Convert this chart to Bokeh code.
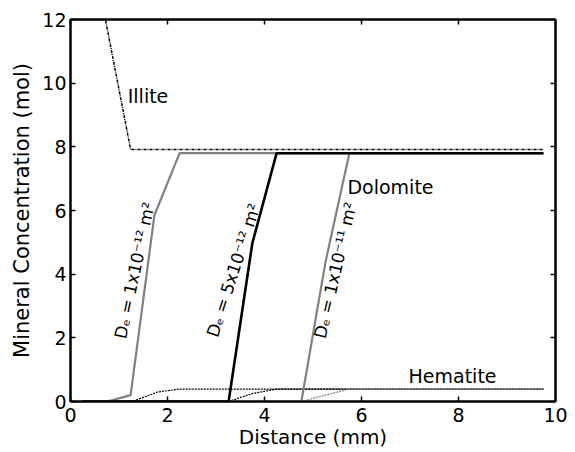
from bokeh.plotting import figure
from bokeh.models import LinearAxis, FixedTicker, Range1d
from bokeh.core.properties import value
from bokeh.embed import file_html
from bokeh.resources import INLINE
import math

# Data
illite_x = [0.25, 0.72, 1.24, 9.75]
illite_y = [12.0, 12.0, 7.92, 7.92]

dol1_x = [0.25, 0.76, 1.24, 1.73, 2.25, 9.75]
dol1_y = [0.0, 0.0, 0.2, 5.85, 7.8, 7.8]
dol2_x = [0.25, 3.26, 3.75, 4.25, 9.75]
dol2_y = [0.0, 0.0, 4.98, 7.8, 7.8]
dol3_x = [0.25, 4.76, 5.26, 5.75, 9.75]
dol3_y = [0.0, 0.0, 4.4, 7.8, 7.8]

hem1_x = [0.25, 1.27, 1.8, 2.25, 9.75]
hem1_y = [0.0, 0.0, 0.3, 0.39, 0.39]
hem2_x = [3.26, 3.75, 4.25, 9.75]
hem2_y = [0.0, 0.25, 0.39, 0.39]
hem3_x = [4.76, 5.26, 5.75, 9.75]
hem3_y = [0.0, 0.2, 0.39, 0.39]

x_ticks = [0, 2, 4, 6, 8, 10]
y_ticks = [0, 2, 4, 6, 8, 10, 12]

de_labels = ["D\u2091 = 1x10\u207b\u00b9\u00b2 m\u00b2",
             "D\u2091 = 5x10\u207b\u00b9\u00b2 m\u00b2",
             "D\u2091 = 1x10\u207b\u00b9\u00b9 m\u00b2"]
de_label_x = [1.32, 3.36, 5.46]
de_label_y = [4.12, 4.12, 4.12]
de_label_angle_deg = [78, 72, 77]

mineral_names = ["Illite", "Dolomite", "Hematite"]
mineral_x = [1.18, 5.71, 6.97]
mineral_y = [9.6, 6.75, 0.8]

FONT = "DejaVu Sans"

p = figure(width=575, height=452, output_backend="svg", toolbar_location=None,
           x_range=Range1d(0, 10), y_range=Range1d(0, 12),
           min_border_left=70, min_border_top=19, min_border_right=20, min_border_bottom=51)
p.grid.visible = False
p.outline_line_color = "black"
p.outline_line_width = 2

for ax, ticks in ((p.xaxis[0], x_ticks), (p.yaxis[0], y_ticks)):
    ax.ticker = FixedTicker(ticks=ticks)
    ax.major_tick_in = 5
    ax.major_tick_out = 0
    ax.minor_tick_line_color = None
    ax.axis_line_width = 2
    ax.major_tick_line_width = 1.5
    ax.major_label_text_font = FONT
    ax.major_label_text_font_size = "19px"
    ax.major_label_text_color = "black"
    ax.axis_label_text_font = FONT
    ax.axis_label_text_font_size = "20px"
    ax.axis_label_text_font_style = "normal"
    ax.axis_label_text_color = "black"

p.xaxis[0].major_label_standoff = 6
p.xaxis[0].axis_label_standoff = 0
p.yaxis[0].major_label_standoff = 4
p.yaxis[0].axis_label_standoff = 5
p.yaxis[0].axis_label_text_font_size = "21px"

p.xaxis[0].axis_label = "Distance (mm)"
p.yaxis[0].axis_label = "Mineral Concentration (mol)"

top = LinearAxis(ticker=FixedTicker(ticks=x_ticks), major_tick_in=5, major_tick_out=0,
                 minor_tick_line_color=None, axis_line_width=2, major_tick_line_width=1.5,
                 major_label_overrides={t: "" for t in x_ticks}, major_label_text_font_size="0px")
right = LinearAxis(ticker=FixedTicker(ticks=y_ticks), major_tick_in=5, major_tick_out=0,
                   minor_tick_line_color=None, axis_line_width=2, major_tick_line_width=1.5,
                   major_label_overrides={t: "" for t in y_ticks}, major_label_text_font_size="0px")
p.add_layout(top, "above")
p.add_layout(right, "right")

# Hematite (dotted)
p.line(hem1_x, hem1_y, line_color="black", line_width=1.2, line_dash="2 1")
p.line(hem2_x, hem2_y, line_color="black", line_width=1.2, line_dash="2 1")
p.line(hem3_x, hem3_y, line_color="#888888", line_width=1.2, line_dash="2 1")

# Dolomite
p.line(dol1_x, dol1_y, line_color="#808080", line_width=2.2)
p.line(dol3_x, dol3_y, line_color="#808080", line_width=2.2)
p.line(dol2_x, dol2_y, line_color="black", line_width=2.6)

# Illite (dash-dot)
p.line(illite_x, illite_y, line_color="black", line_width=1.5, line_dash="3 1 1 1")

# labels
p.text(x=de_label_x, y=de_label_y, text=de_labels,
       angle=[math.radians(a) for a in de_label_angle_deg],
       text_font=value(FONT), text_font_size="17px", text_color="black",
       text_align="center", text_baseline="middle")
p.text(x=mineral_x, y=mineral_y, text=mineral_names,
       text_font=value(FONT), text_font_size="19px", text_color="black",
       text_align="left", text_baseline="middle")

open("out.html", "w").write(file_html(p, INLINE))
